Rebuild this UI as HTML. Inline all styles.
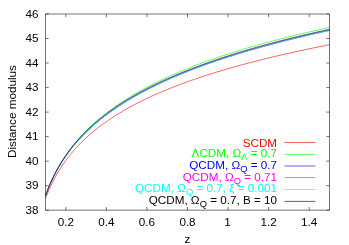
<!DOCTYPE html>
<html><head><meta charset="utf-8"><title>Distance modulus</title>
<style>html,body{margin:0;padding:0;background:#fff}svg{display:block;will-change:transform}text{font-family:"Liberation Sans",sans-serif;font-size:11.7px}</style></head><body>
<svg width="349" height="245" viewBox="0 0 349 245">
<rect width="349" height="245" fill="#fff"/>
<g fill="none" stroke-width="0.62" stroke-linejoin="round">
<path stroke="#ff0000" d="M45.50,198.49 L49.56,188.55 L53.61,180.11 L57.67,172.78 L61.73,166.29 L65.79,160.46 L69.84,155.18 L73.90,150.34 L77.96,145.87 L82.01,141.73 L86.07,137.86 L90.13,134.23 L94.19,130.82 L98.24,127.59 L102.30,124.54 L106.36,121.63 L110.41,118.86 L114.47,116.21 L118.53,113.68 L122.59,111.25 L126.64,108.91 L130.70,106.66 L134.76,104.50 L138.81,102.41 L142.87,100.39 L146.93,98.44 L150.99,96.54 L155.04,94.71 L159.10,92.93 L163.16,91.20 L167.21,89.52 L171.27,87.88 L175.33,86.29 L179.39,84.74 L183.44,83.23 L187.50,81.75 L191.56,80.31 L195.61,78.91 L199.67,77.53 L203.73,76.19 L207.79,74.87 L211.84,73.58 L215.90,72.32 L219.96,71.09 L224.01,69.88 L228.07,68.69 L232.13,67.52 L236.19,66.38 L240.24,65.26 L244.30,64.16 L248.36,63.08 L252.41,62.02 L256.47,60.97 L260.53,59.95 L264.59,58.94 L268.64,57.94 L272.70,56.97 L276.76,56.00 L280.81,55.06 L284.87,54.12 L288.93,53.21 L292.99,52.30 L297.04,51.41 L301.10,50.53 L305.16,49.67 L309.21,48.81 L313.27,47.97 L317.33,47.14 L321.39,46.32 L325.44,45.51 L329.50,44.71"/>
<path stroke="#00ff00" d="M45.50,195.47 L49.56,185.06 L53.61,176.18 L57.67,168.42 L61.73,161.51 L65.79,155.28 L69.84,149.60 L73.90,144.38 L77.96,139.55 L82.01,135.04 L86.07,130.83 L90.13,126.86 L94.19,123.12 L98.24,119.58 L102.30,116.21 L106.36,113.00 L110.41,109.94 L114.47,107.01 L118.53,104.20 L122.59,101.50 L126.64,98.91 L130.70,96.41 L134.76,93.99 L138.81,91.67 L142.87,89.41 L146.93,87.23 L150.99,85.12 L155.04,83.07 L159.10,81.08 L163.16,79.15 L167.21,77.27 L171.27,75.44 L175.33,73.66 L179.39,71.93 L183.44,70.24 L187.50,68.59 L191.56,66.98 L195.61,65.40 L199.67,63.87 L203.73,62.36 L207.79,60.89 L211.84,59.46 L215.90,58.05 L219.96,56.67 L224.01,55.32 L228.07,54.00 L232.13,52.70 L236.19,51.43 L240.24,50.18 L244.30,48.95 L248.36,47.75 L252.41,46.57 L256.47,45.40 L260.53,44.26 L264.59,43.14 L268.64,42.04 L272.70,40.96 L276.76,39.89 L280.81,38.84 L284.87,37.81 L288.93,36.79 L292.99,35.79 L297.04,34.80 L301.10,33.83 L305.16,32.88 L309.21,31.93 L313.27,31.01 L317.33,30.09 L321.39,29.19 L325.44,28.30 L329.50,27.42"/>
<path stroke="#0000ff" d="M45.50,195.66 L49.56,185.35 L53.61,176.57 L57.67,168.91 L61.73,162.12 L65.79,156.01 L69.84,150.46 L73.90,145.36 L77.96,140.65 L82.01,136.27 L86.07,132.17 L90.13,128.32 L94.19,124.68 L98.24,121.24 L102.30,117.96 L106.36,114.84 L110.41,111.86 L114.47,109.01 L118.53,106.27 L122.59,103.64 L126.64,101.11 L130.70,98.66 L134.76,96.31 L138.81,94.02 L142.87,91.82 L146.93,89.68 L150.99,87.61 L155.04,85.59 L159.10,83.64 L163.16,81.74 L167.21,79.89 L171.27,78.09 L175.33,76.33 L179.39,74.62 L183.44,72.95 L187.50,71.32 L191.56,69.73 L195.61,68.18 L199.67,66.66 L203.73,65.17 L207.79,63.72 L211.84,62.29 L215.90,60.90 L219.96,59.53 L224.01,58.19 L228.07,56.88 L232.13,55.59 L236.19,54.33 L240.24,53.08 L244.30,51.87 L248.36,50.67 L252.41,49.49 L256.47,48.34 L260.53,47.20 L264.59,46.08 L268.64,44.99 L272.70,43.90 L276.76,42.84 L280.81,41.79 L284.87,40.76 L288.93,39.75 L292.99,38.75 L297.04,37.76 L301.10,36.79 L305.16,35.84 L309.21,34.89 L313.27,33.96 L317.33,33.05 L321.39,32.14 L325.44,31.25 L329.50,30.37"/>
<path stroke="#ff00ff" d="M45.50,195.67 L49.56,185.36 L53.61,176.57 L57.67,168.92 L61.73,162.12 L65.79,156.01 L69.84,150.46 L73.90,145.36 L77.96,140.65 L82.01,136.26 L86.07,132.16 L90.13,128.30 L94.19,124.66 L98.24,121.22 L102.30,117.94 L106.36,114.82 L110.41,111.83 L114.47,108.98 L118.53,106.24 L122.59,103.60 L126.64,101.07 L130.70,98.62 L134.76,96.26 L138.81,93.98 L142.87,91.77 L146.93,89.63 L150.99,87.55 L155.04,85.54 L159.10,83.58 L163.16,81.68 L167.21,79.83 L171.27,78.03 L175.33,76.27 L179.39,74.56 L183.44,72.89 L187.50,71.26 L191.56,69.66 L195.61,68.11 L199.67,66.59 L203.73,65.10 L207.79,63.64 L211.84,62.22 L215.90,60.82 L219.96,59.45 L224.01,58.11 L228.07,56.80 L232.13,55.51 L236.19,54.25 L240.24,53.00 L244.30,51.78 L248.36,50.59 L252.41,49.41 L256.47,48.25 L260.53,47.12 L264.59,46.00 L268.64,44.90 L272.70,43.82 L276.76,42.75 L280.81,41.71 L284.87,40.68 L288.93,39.66 L292.99,38.66 L297.04,37.67 L301.10,36.70 L305.16,35.75 L309.21,34.80 L313.27,33.87 L317.33,32.96 L321.39,32.05 L325.44,31.16 L329.50,30.28"/>
<path stroke="#00ffff" d="M45.50,195.69 L49.56,185.38 L53.61,176.60 L57.67,168.95 L61.73,162.17 L65.79,156.06 L69.84,150.52 L73.90,145.43 L77.96,140.72 L82.01,136.34 L86.07,132.25 L90.13,128.40 L94.19,124.76 L98.24,121.32 L102.30,118.05 L106.36,114.93 L110.41,111.95 L114.47,109.10 L118.53,106.36 L122.59,103.73 L126.64,101.20 L130.70,98.76 L134.76,96.40 L138.81,94.12 L142.87,91.92 L146.93,89.78 L150.99,87.71 L155.04,85.69 L159.10,83.74 L163.16,81.84 L167.21,79.99 L171.27,78.19 L175.33,76.44 L179.39,74.73 L183.44,73.06 L187.50,71.43 L191.56,69.84 L195.61,68.28 L199.67,66.76 L203.73,65.28 L207.79,63.82 L211.84,62.40 L215.90,61.00 L219.96,59.64 L224.01,58.30 L228.07,56.98 L232.13,55.70 L236.19,54.43 L240.24,53.19 L244.30,51.97 L248.36,50.78 L252.41,49.60 L256.47,48.44 L260.53,47.31 L264.59,46.19 L268.64,45.09 L272.70,44.01 L276.76,42.95 L280.81,41.90 L284.87,40.87 L288.93,39.86 L292.99,38.86 L297.04,37.87 L301.10,36.90 L305.16,35.94 L309.21,35.00 L313.27,34.07 L317.33,33.15 L321.39,32.25 L325.44,31.36 L329.50,30.48"/>
<path stroke="#000000" d="M45.50,195.49 L49.56,185.11 L53.61,176.25 L57.67,168.51 L61.73,161.63 L65.79,155.44 L69.84,149.80 L73.90,144.63 L77.96,139.85 L82.01,135.41 L86.07,131.25 L90.13,127.35 L94.19,123.68 L98.24,120.20 L102.30,116.90 L106.36,113.77 L110.41,110.77 L114.47,107.91 L118.53,105.17 L122.59,102.54 L126.64,100.02 L130.70,97.58 L134.76,95.23 L138.81,92.96 L142.87,90.76 L146.93,88.63 L150.99,86.57 L155.04,84.57 L159.10,82.62 L163.16,80.73 L167.21,78.89 L171.27,77.09 L175.33,75.35 L179.39,73.64 L183.44,71.97 L187.50,70.35 L191.56,68.76 L195.61,67.20 L199.67,65.68 L203.73,64.20 L207.79,62.74 L211.84,61.31 L215.90,59.92 L219.96,58.55 L224.01,57.20 L228.07,55.89 L232.13,54.59 L236.19,53.33 L240.24,52.08 L244.30,50.86 L248.36,49.66 L252.41,48.48 L256.47,47.32 L260.53,46.18 L264.59,45.06 L268.64,43.96 L272.70,42.87 L276.76,41.80 L280.81,40.75 L284.87,39.72 L288.93,38.70 L292.99,37.70 L297.04,36.71 L301.10,35.74 L305.16,34.78 L309.21,33.83 L313.27,32.90 L317.33,31.98 L321.39,31.08 L325.44,30.18 L329.50,29.30"/>
</g>
<path d="M45.50,14.00 H329.50 V210.20 H45.50 Z M45.50,210.20 h3.20 M329.50,210.20 h-3.20 M45.50,185.67 h3.20 M329.50,185.67 h-3.20 M45.50,161.15 h3.20 M329.50,161.15 h-3.20 M45.50,136.62 h3.20 M329.50,136.62 h-3.20 M45.50,112.10 h3.20 M329.50,112.10 h-3.20 M45.50,87.57 h3.20 M329.50,87.57 h-3.20 M45.50,63.05 h3.20 M329.50,63.05 h-3.20 M45.50,38.53 h3.20 M329.50,38.53 h-3.20 M45.50,14.00 h3.20 M329.50,14.00 h-3.20 M65.79,210.20 v-3.20 M65.79,14.00 v3.20 M106.36,210.20 v-3.20 M106.36,14.00 v3.20 M146.93,210.20 v-3.20 M146.93,14.00 v3.20 M187.50,210.20 v-3.20 M187.50,14.00 v3.20 M228.07,210.20 v-3.20 M228.07,14.00 v3.20 M268.64,210.20 v-3.20 M268.64,14.00 v3.20 M309.21,210.20 v-3.20 M309.21,14.00 v3.20" fill="none" stroke="#000" stroke-width="0.55"/>
<g fill="#000">
<text x="38.45" y="214.00" text-anchor="end">38</text>
<text x="38.45" y="189.47" text-anchor="end">39</text>
<text x="38.45" y="164.95" text-anchor="end">40</text>
<text x="38.45" y="140.43" text-anchor="end">41</text>
<text x="38.45" y="115.90" text-anchor="end">42</text>
<text x="38.45" y="91.37" text-anchor="end">43</text>
<text x="38.45" y="66.85" text-anchor="end">44</text>
<text x="38.45" y="42.33" text-anchor="end">45</text>
<text x="38.45" y="17.80" text-anchor="end">46</text>
<text x="65.79" y="225.60" text-anchor="middle">0.2</text>
<text x="106.36" y="225.60" text-anchor="middle">0.4</text>
<text x="146.93" y="225.60" text-anchor="middle">0.6</text>
<text x="187.50" y="225.60" text-anchor="middle">0.8</text>
<text x="227.47" y="225.60" text-anchor="middle">1</text>
<text x="268.64" y="225.60" text-anchor="middle">1.2</text>
<text x="309.21" y="225.60" text-anchor="middle">1.4</text>
<text x="187.5" y="242.8" text-anchor="middle">z</text>
<text transform="translate(16.2,111.6) rotate(-90)" text-anchor="middle">Distance modulus</text>
</g>
<text x="277.1" y="146.60" text-anchor="end" fill="#ff0000">SCDM</text>
<path d="M284.5,142.50 H315.4" stroke="#ff0000" stroke-width="0.62" fill="none"/>
<text x="277.1" y="157.10" text-anchor="end" fill="#00ff00">ΛCDM, Ω<tspan dy="3.2" font-size="9.36px">Λ</tspan><tspan dy="-3.2"> </tspan>= 0.7</text>
<path d="M284.5,154.45 H315.4" stroke="#00ff00" stroke-width="0.62" fill="none"/>
<text x="277.1" y="168.80" text-anchor="end" fill="#0000ff">QCDM, Ω<tspan dy="3.2" font-size="9.36px">Q</tspan><tspan dy="-3.2"> </tspan>= 0.7</text>
<path d="M284.5,166.00 H315.4" stroke="#0000ff" stroke-width="0.62" fill="none"/>
<text x="277.1" y="180.50" text-anchor="end" fill="#ff00ff">QCDM, Ω<tspan dy="3.2" font-size="9.36px">Q</tspan><tspan dy="-3.2"> </tspan>= 0.71</text>
<path d="M284.5,177.55 H315.4" stroke="#ff00ff" stroke-width="0.62" fill="none"/>
<text x="277.1" y="192.20" text-anchor="end" fill="#00ffff">QCDM, Ω<tspan dy="3.2" font-size="9.36px">Q</tspan><tspan dy="-3.2"> </tspan>= 0.7, ξ = 0.001</text>
<path d="M284.5,189.50 H315.4" stroke="#00ffff" stroke-width="0.62" fill="none"/>
<text x="277.1" y="203.90" text-anchor="end" fill="#000000">QCDM, Ω<tspan dy="3.2" font-size="9.36px">Q</tspan><tspan dy="-3.2"> </tspan>= 0.7, B = 10</text>
<path d="M284.5,201.40 H315.4" stroke="#000000" stroke-width="0.62" fill="none"/>
</svg></body></html>
